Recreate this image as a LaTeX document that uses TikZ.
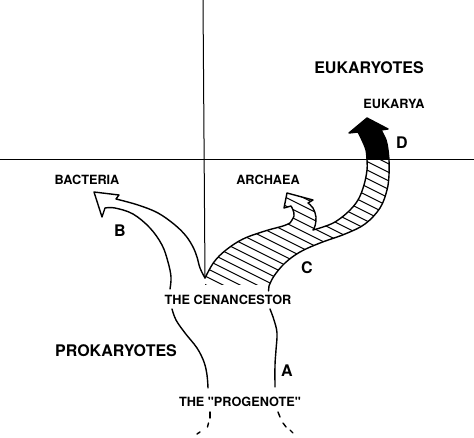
\documentclass[tikz,border=0pt]{standalone}
\usepackage{fontspec}
\setmainfont{TeX Gyre Heros}[Ligatures=TeXOff]
\begin{document}
\begin{tikzpicture}[x=1pt,y=-1pt,
  outl/.style={line width=1.4pt,line join=round,line cap=round},
  thin/.style={line width=1pt},
  hatchline/.style={line width=1.1pt},
  lbl/.style={font=\bfseries\fontsize{12.7}{14}\selectfont,inner sep=0pt},
  biglbl/.style={font=\bfseries\fontsize{16}{18}\selectfont,inner sep=0pt},
  letter/.style={font=\bfseries\fontsize{16}{18}\selectfont,inner sep=0pt},
  sm/.style={smooth,tension=0.6}]
\useasboundingbox (0,0) rectangle (474,438);
\fill[white] (0,0) rectangle (474,438);

% hatching
\begin{scope}
\clip (205,278)
  -- plot[sm] coordinates {(205,278) (214,262) (226,250) (243,239) (265,231) (283,226) (290,223)}
  -- plot[sm] coordinates {(290,223) (294,216) (293,210) (291,206)}
  -- (284,208) -- (287,193) -- (313,200) -- (308,203)
  -- plot[sm] coordinates {(308,203) (313,208) (316,217) (315,226) (313,230)}
  -- plot[sm] coordinates {(313,230) (323,227) (335,222) (348,212) (358,200) (364,185) (367,170) (367,160)}
  -- (389,160)
  -- plot[sm] coordinates {(389,160) (389,175) (387,190) (380,208) (365,224) (345,234) (320,243) (300,252) (285,263) (274,276) (269,286)}
  -- (268,285) -- (205,285) -- cycle;
\foreach \c in {0,8.5,...,300} \draw[hatchline] (180,\c) -- (420,\c+120);
\end{scope}

% black eukarya part
\fill[black] (367,160)
  -- plot[sm] coordinates {(367,160) (366,150) (362,140) (358,132)}
  -- (349,133) -- (367,118) -- (388,129) -- (381,130)
  -- plot[sm] coordinates {(381,130) (386,140) (388,150) (389,160)} -- cycle;

% axes lines
\coordinate (vtop) at (203,0);
\coordinate (vtip) at (205,278);
\coordinate (hl) at (0,160);
\coordinate (hr) at (474,160);
\draw[thin] (hl) -- (hr);
\draw[thin] (vtop) -- (vtip);

% outline of eukaryal/archaeal band
\draw[outl] (205,278)
  -- plot[sm] coordinates {(205,278) (214,262) (226,250) (243,239) (265,231) (283,226) (290,223)}
  -- plot[sm] coordinates {(290,223) (294,216) (293,210) (291,206)}
  -- (284,208) -- (287,193) -- (313,200) -- (308,203)
  -- plot[sm] coordinates {(308,203) (313,208) (316,217) (315,226) (313,230)}
  -- plot[sm] coordinates {(313,230) (323,227) (335,222) (348,212) (358,200) (364,185) (367,170) (367,160)}
  -- plot[sm] coordinates {(367,160) (366,150) (362,140) (358,132)}
  -- (349,133) -- (367,118) -- (388,129) -- (381,130)
  -- plot[sm] coordinates {(381,130) (386,140) (388,150) (389,160)}
  -- plot[sm] coordinates {(389,160) (389,175) (387,190) (380,208) (365,224) (345,234) (320,243) (300,252) (285,263) (274,276) (269,286)}
  -- (268.5,291);

% bacteria branch
\draw[outl] plot[sm] coordinates {(205,278) (200,268) (197,257) (193,247) (186,236) (175,225) (158,213) (138,205) (116,199)}
  -- (119,195) -- (94,192) -- (102,217) -- (105,208)
  -- plot[sm] coordinates {(105,208) (115,208) (133,214) (150,228) (162,245) (168,262) (171,277) (170,289)};

% trunks
\draw[outl] plot[sm] coordinates {(172,309) (176,320) (185,333) (197,348) (204,362) (207,375) (208,388)};
\draw[outl] plot[sm] coordinates {(270,309) (274,320) (277,333) (276,350) (275,365) (275,387)};
% dashed continuation
\draw[outl] (210,412) -- (210,418);
\draw[outl] (208.5,423) -- (207.5,427);
\draw[outl] (200,432) -- (197,434);
\draw[outl] (278,412) -- (280,417);
\draw[outl] (283,423) -- (286,427);
\draw[outl] (290,430) -- (293,433);

% labels
\node[biglbl] (euk) at (369,68) {EUKARYOTES};
\node[lbl] (eukarya) at (394,104) {EUKARYA};
\node[letter] (D) at (402,143) {D};
\node[lbl] (arch) at (268,180) {ARCHAEA};
\node[lbl] (bact) at (87,180) {BACTERIA};
\node[letter] (B) at (120,231) {B};
\node[letter] (C) at (307,268) {C};
\node[lbl] (cen) at (228,300) {THE CENANCESTOR};
\node[biglbl] (prok) at (116,351) {PROKARYOTES};
\node[letter] (A) at (287,371) {A};
\node[lbl] (prog) at (240,402) {THE "PROGENOTE"};
\end{tikzpicture}
\end{document}
